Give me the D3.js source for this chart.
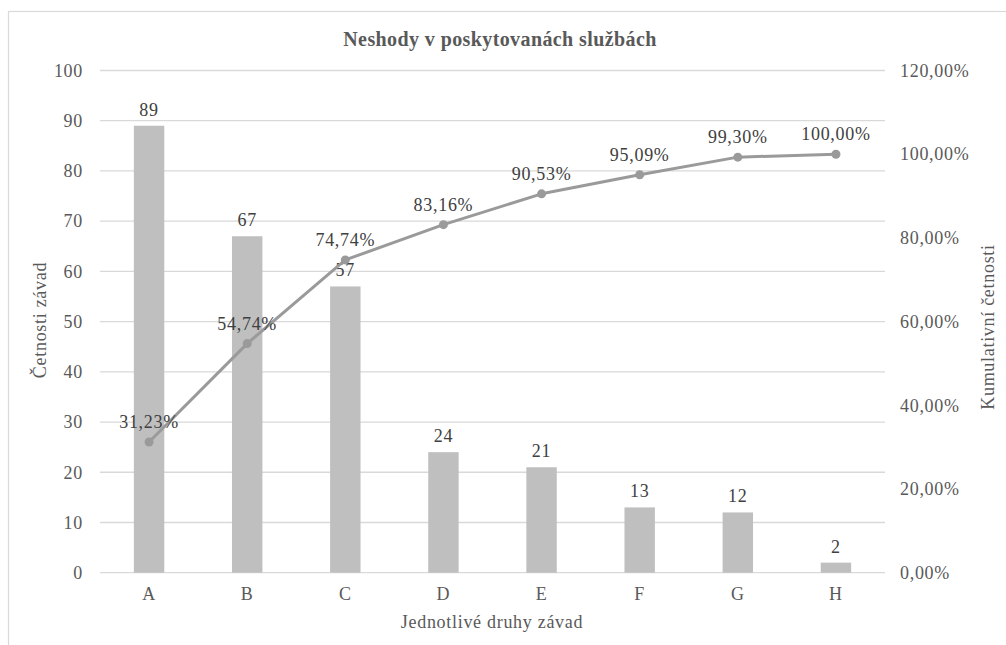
<!DOCTYPE html>
<html>
<head>
<meta charset="utf-8">
<script src="https://cdn.jsdelivr.net/npm/d3@7"></script>
<style>
  html, body { margin: 0; padding: 0; background: #fff; }
  svg { display: block; }
</style>
</head>
<body>
<svg id="chart" width="1006" height="645"></svg>
<script>
const categories = ["A", "B", "C", "D", "E", "F", "G", "H"];
const counts = [89, 67, 57, 24, 21, 13, 12, 2];
const cumulative = [0.3123, 0.5474, 0.7474, 0.8316, 0.9053, 0.9509, 0.9930, 1.0000];
const leftTicks = [0, 10, 20, 30, 40, 50, 60, 70, 80, 90, 100];
const rightTicks = [0, 0.2, 0.4, 0.6, 0.8, 1.0, 1.2];
const title = "Neshody v poskytovanách službách";
const xTitle = "Jednotlivé druhy závad";
const yTitle = "Četnosti závad";
const y2Title = "Kumulativní četnosti";

const svg = d3.select("#chart");
const loc = d3.formatLocale({decimal: ",", thousands: " ", grouping: [3], currency: ["", " Kč"]});
const pct = loc.format(".2%");

function styleText(sel, size, color) {
  return sel.attr("font-family", "Liberation Serif").attr("font-size", size)
     .attr("letter-spacing", 0.7).attr("fill", color || "#595959");
}

const plot = {left: 100, right: 885, top: 70.5, bottom: 572.7};

// chart border
svg.append("rect").attr("x", 8.5).attr("y", 11.5).attr("width", 1010).attr("height", 640)
  .attr("fill", "none").attr("stroke", "#d9d9d9").attr("stroke-width", 1.2);

const x = d3.scaleBand().domain(categories).range([plot.left, plot.right]).padding(0);
const y = d3.scaleLinear().domain([0, 100]).range([plot.bottom, plot.top]);
const y2 = d3.scaleLinear().domain([0, 1.2]).range([plot.bottom, plot.top]);
const barW = x.bandwidth() * 0.31;

// gridlines
svg.append("g").selectAll("line").data(leftTicks).join("line")
  .attr("x1", plot.left).attr("x2", plot.right)
  .attr("y1", d => y(d)).attr("y2", d => y(d))
  .attr("stroke", "#d9d9d9").attr("stroke-width", 1.3);

// left axis
const yAxis = d3.axisLeft(y).tickValues(leftTicks).tickSize(0).tickPadding(17);
const gy = svg.append("g").attr("transform", `translate(${plot.left},0)`).call(yAxis);
gy.attr("font-family", null).attr("font-size", null);
gy.select(".domain").remove();
styleText(gy.selectAll("text"), 18);

// right axis
const y2Axis = d3.axisRight(y2).tickValues(rightTicks).tickSize(0).tickPadding(15).tickFormat(pct);
const gy2 = svg.append("g").attr("transform", `translate(${plot.right},0)`).call(y2Axis);
gy2.attr("font-family", null).attr("font-size", null);
gy2.select(".domain").remove();
styleText(gy2.selectAll("text"), 18);

// x axis
const xAxis = d3.axisBottom(x).tickSize(0).tickPadding(15);
const gx = svg.append("g").attr("transform", `translate(0,${plot.bottom})`).call(xAxis);
gx.attr("font-family", null).attr("font-size", null);
gx.select(".domain").remove();
styleText(gx.selectAll("text"), 18);

// bars
svg.append("g").selectAll("rect").data(categories).join("rect")
  .attr("x", d => x(d) + x.bandwidth() / 2 - barW / 2)
  .attr("width", barW)
  .attr("y", (d, i) => y(counts[i]))
  .attr("height", (d, i) => y(0) - y(counts[i]))
  .attr("fill", "#bfbfbf");

// bar labels
styleText(svg.append("g").selectAll("text").data(categories).join("text")
  .attr("x", d => x(d) + x.bandwidth() / 2)
  .attr("y", (d, i) => y(counts[i]) - 10)
  .attr("text-anchor", "middle")
  .text((d, i) => counts[i]), 18, "#404040");

// cumulative line
const line = d3.line().x(d => x(d[0]) + x.bandwidth() / 2).y(d => y2(d[1]));
const pts = categories.map((c, i) => [c, cumulative[i]]);
svg.append("path").datum(pts).attr("d", line)
  .attr("fill", "none").attr("stroke", "#9a9a9a").attr("stroke-width", 3)
  .attr("stroke-linejoin", "round");
svg.append("g").selectAll("circle").data(pts).join("circle")
  .attr("cx", d => x(d[0]) + x.bandwidth() / 2).attr("cy", d => y2(d[1]))
  .attr("r", 4.5).attr("fill", "#9a9a9a");
styleText(svg.append("g").selectAll("text").data(pts).join("text")
  .attr("x", d => x(d[0]) + x.bandwidth() / 2)
  .attr("y", d => y2(d[1]) - 14)
  .attr("text-anchor", "middle")
  .text(d => pct(d[1])), 18, "#404040");

// title
styleText(svg.append("text").attr("x", 500).attr("y", 46).attr("text-anchor", "middle")
  .text(title), 20, "#595959").attr("font-weight", "bold").attr("letter-spacing", 0.4);

// axis titles
styleText(svg.append("text").attr("x", 492).attr("y", 628).attr("text-anchor", "middle")
  .text(xTitle), 18);
styleText(svg.append("text").attr("transform", "translate(46,320) rotate(-90)")
  .attr("text-anchor", "middle").text(yTitle), 18);
styleText(svg.append("text").attr("transform", "translate(994,327) rotate(-90)")
  .attr("text-anchor", "middle").text(y2Title), 18);
</script>
</body>
</html>
